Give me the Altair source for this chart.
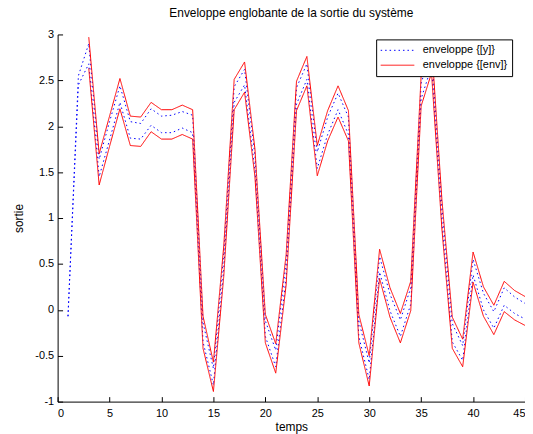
import altair as alt
import pandas as pd

t = list(range(1, 46))

y_upper = [-0.07, 2.55, 2.90, 1.64, 2.05, 2.44, 2.05, 2.03, 2.19, 2.11,
           2.12, 2.16, 2.12, -0.14, -0.64, 0.62, 2.43, 2.62, 1.68, -0.12,
           -0.44, 0.52, 2.42, 2.68, 1.72, 2.10, 2.36, 2.10, -0.12, -0.58,
           0.58, 0.17, -0.11, 0.24, 2.47, 2.82, 1.12, -0.15, -0.39, 0.55,
           0.18, -0.02, 0.24, 0.14, 0.07]
y_lower = [-0.07, 2.45, 2.68, 1.45, 1.85, 2.26, 1.87, 1.86, 2.01, 1.93,
           1.93, 1.98, 1.93, -0.35, -0.82, 0.45, 2.26, 2.45, 1.52, -0.29,
           -0.62, 0.35, 2.24, 2.51, 1.54, 1.91, 2.18, 1.91, -0.29, -0.76,
           0.41, -0.01, -0.29, 0.06, 2.30, 2.65, 0.95, -0.35, -0.55, 0.38,
           0.00, -0.20, 0.05, -0.04, -0.10]
env_upper = [None, None, 2.97, 1.70, 2.11, 2.52, 2.11, 2.10, 2.26, 2.18,
             2.18, 2.23, 2.18, -0.07, -0.57, 0.70, 2.51, 2.70, 1.75, -0.05,
             -0.37, 0.60, 2.49, 2.76, 1.79, 2.17, 2.44, 2.17, -0.05, -0.50,
             0.66, 0.24, -0.04, 0.31, 2.55, 2.90, 1.20, -0.08, -0.32, 0.63,
             0.25, 0.05, 0.31, 0.21, 0.145]
env_lower = [None, None, 2.63, 1.36, 1.78, 2.19, 1.79, 1.78, 1.94, 1.86,
             1.86, 1.91, 1.86, -0.42, -0.89, 0.37, 2.18, 2.37, 1.45, -0.36,
             -0.69, 0.27, 2.17, 2.44, 1.46, 1.84, 2.10, 1.84, -0.36, -0.83,
             0.34, -0.08, -0.36, -0.01, 2.22, 2.58, 0.88, -0.42, -0.62, 0.30,
             -0.07, -0.27, -0.02, -0.11, -0.17]

x_ticks = [0, 5, 10, 15, 20, 25, 30, 35, 40, 45]
y_ticks = [-1, -0.5, 0, 0.5, 1, 1.5, 2, 2.5, 3]

lbl_y = "enveloppe {[y]}"
lbl_env = "enveloppe {[env]}"

rows = []
for i, tt in enumerate(t):
    rows.append({"t": tt, "v": y_upper[i], "series": lbl_y, "bound": "y_up"})
    rows.append({"t": tt, "v": y_lower[i], "series": lbl_y, "bound": "y_lo"})
    rows.append({"t": tt, "v": env_upper[i], "series": lbl_env, "bound": "e_up"})
    rows.append({"t": tt, "v": env_lower[i], "series": lbl_env, "bound": "e_lo"})
df = pd.DataFrame(rows).dropna()

W, H = 471, 370
FONT = "Liberation Sans"

xscale = alt.Scale(domain=[0, 45], nice=False, zero=False)
yscale = alt.Scale(domain=[-1, 3], nice=False, zero=False)

legend_opts = dict(
    orient="none", legendX=321, legendY=5, title=None,
    strokeColor="black", fillColor="white", padding=4,
    symbolType="stroke", symbolSize=1150, symbolStrokeWidth=1,
    clipHeight=14, labelFont=FONT, labelFontSize=11, labelColor="black",
    labelOffset=8, rowPadding=1, cornerRadius=0,
)

# inward ticks: negative tick length passed as an expression
inward = alt.ExprRef(expr="-5")

lines = alt.Chart(df).mark_line(strokeWidth=1).encode(
    x=alt.X("t:Q", scale=xscale, axis=alt.Axis(
        values=x_ticks, title="temps", ticks=True, tickSize=inward,
        tickColor="black", grid=False,
        domainColor="black", labelFont=FONT, labelFontSize=11,
        labelColor="black", labelPadding=11, titleFont=FONT,
        titleFontSize=12, titleFontWeight="normal", titleColor="black",
        titlePadding=3)),
    y=alt.Y("v:Q", scale=yscale, axis=alt.Axis(
        values=y_ticks, title="sortie", ticks=True, tickSize=inward,
        tickColor="black", grid=False,
        domainColor="black", labelFont=FONT, labelFontSize=11,
        labelColor="black", labelPadding=9,
        labelExpr="datum.value < 0 ? '-' + format(-datum.value, '~g') : format(datum.value, '~g')",
        titleFont=FONT, titleFontSize=12, titleFontWeight="normal",
        titleColor="black", titlePadding=9)),
    color=alt.Color("series:N", scale=alt.Scale(domain=[lbl_y, lbl_env], range=["#0000ff", "#ff0000"]),
                    legend=alt.Legend(**legend_opts)),
    strokeDash=alt.StrokeDash("series:N", scale=alt.Scale(domain=[lbl_y, lbl_env], range=[[1.5, 3], [1, 0]]),
                              legend=alt.Legend(**legend_opts)),
    detail="bound:N",
    order="t:Q",
)

chart = lines.properties(
    width=W, height=H,
    title=alt.TitleParams("Enveloppe englobante de la sortie du système", font=FONT,
                          fontSize=12, fontWeight="normal", color="black",
                          anchor="middle", offset=9),
    autosize="none",
    padding={"left": 50, "top": 25, "right": 0, "bottom": 31},
    background="white",
).configure_view(stroke=None)

chart.save("out.html", embed_options={"renderer": "svg", "actions": False})
